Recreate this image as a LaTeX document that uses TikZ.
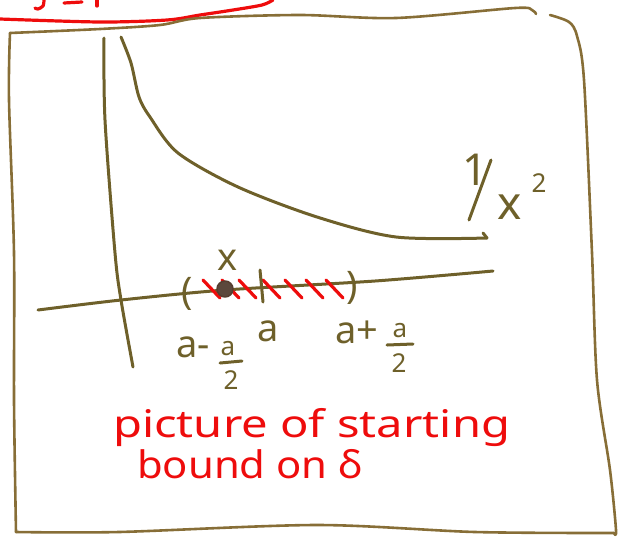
\documentclass[tikz,border=0pt]{standalone}
\usepackage{fontspec}
\usepackage{graphicx}
\setmainfont{Noto Sans}
\definecolor{ink}{RGB}{110,96,42}
\definecolor{framec}{RGB}{135,110,55}
\definecolor{pen}{RGB}{238,12,12}
\definecolor{dotc}{RGB}{85,62,48}
\begin{document}
\begin{tikzpicture}[x=1pt,y=-1pt, line cap=round, line join=round,
  inkline/.style={draw=ink, line width=3pt},
  frameline/.style={draw=framec, line width=2.6pt},
  redline/.style={draw=pen, line width=3.2pt},
  lbl/.style={text=ink, inner sep=0pt, font=\fontsize{38}{38}\selectfont},
  sublbl/.style={text=ink, inner sep=0pt, font=\fontsize{26}{26}\selectfont},
  note/.style={text=pen, inner sep=0pt, font=\fontsize{38}{41}\selectfont, anchor=base west},
]
\useasboundingbox (0,0) rectangle (621,539);

% red fragments of a cut-off title box
\draw[redline] plot[smooth] coordinates {(0,19) (100,22) (167,20) (200,15) (233,10) (262,5) (273,0)};
\draw[redline] plot[smooth] coordinates {(44,0) (43,6) (38,9) (35,8)};
\draw[redline] (64,3) -- (82,2);
\draw[redline] (97,0) -- (97,6);

% frame
\draw[frameline] plot[smooth] coordinates {(10,33) (100,29) (160,25) (200,18) (300,15) (396,18) (515,8) (532,10) (536,14)};
\draw[frameline] plot[smooth] coordinates {(10,33) (9,100) (14,253) (14,400) (16,532)};
\draw[frameline] plot[smooth] coordinates {(16,532) (119,532) (317,525) (475,532) (614,533)};
\draw[frameline] plot[smooth] coordinates {(550,15) (569,22) (577,36) (584,80) (592,253) (597,380) (610,470) (616,530) (614,533)};

% axes
\draw[inkline] plot[smooth] coordinates {(104,38) (105,120) (115,253) (121,300) (133,367)};
\draw[inkline] plot[smooth] coordinates {(38,310) (121,300) (225,290) (375,281) (493,271)};

% curve 1/x^2
\draw[inkline] plot[smooth] coordinates {(121,37) (131,63) (139,97) (150,117) (178,153) (238,187) (317,217) (396,237) (487,238)};
\draw[inkline] (483,233) -- (487,238);

% hatching of the interval
\foreach \s in {203,222,239,263,285,306,326}
  \draw[redline] (\s,280) -- ++(17,18);

% tick at a
\draw[inkline] (260,270) -- (263,302);

% interval brackets
\node[lbl] (lp) at (187,294) {(};
\node[lbl] (rp) at (352,288) {)};

% point x
\filldraw[fill=dotc!85!gray, draw=dotc, line width=1.5pt] (225,289) circle (8);
\node[lbl] (xl) at (228,260) {x};

% labels under the axis
\node[lbl] (al) at (268,331) {a};
\node[lbl, anchor=base west] (lm) at (176,357) {a-};
\node[sublbl] (lnum) at (228,349) {a};
\draw[inkline] (220,363) -- (242,361);
\node[sublbl] (lden) at (231,380) {2};

\node[lbl, anchor=base west] (rm) at (335,343) {a+};
\node[sublbl] (rnum) at (400,331) {a};
\draw[inkline] (387,345) -- (413,344);
\node[sublbl] (rden) at (399,363) {2};

% function label 1/x^2
\node[text=ink, inner sep=0pt, font=\fontsize{44}{44}\selectfont] (one) at (475,170) {1};
\draw[inkline] (491,160) -- (469,220);
\node[text=ink, inner sep=0pt, font=\fontsize{46}{46}\selectfont] (fx) at (510,207) {x};
\node[text=ink, inner sep=0pt, font=\fontsize{26}{26}\selectfont] (two) at (539,183) {2};

% note
\node[note] (n1) at (113,437) {\scalebox{1.24}[1]{picture of starting}};
\node[note] (n2) at (137,478) {\scalebox{1.1}[1]{bound on δ}};
\end{tikzpicture}
\end{document}
